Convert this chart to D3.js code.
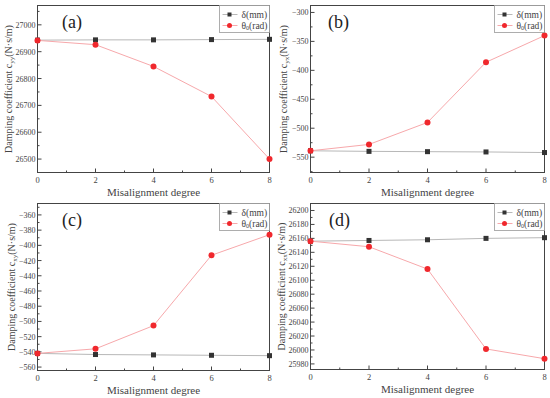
<!DOCTYPE html>
<html>
<head>
<meta charset="utf-8">
<script src="https://cdn.jsdelivr.net/npm/d3@7"></script>
<style>
  body { margin: 0; background: #fff; }
</style>
</head>
<body>
<svg id="mainsvg" width="550" height="398"></svg>
<script>
// misalignment degree (x)
const degrees = [0, 2, 4, 6, 8];

// panel (a) c_yy
const yyDelta = [26943, 26944, 26944, 26945, 26946];
const yyTheta = [26942, 26926, 26845, 26733, 26500];
const yyTicks = [26500, 26600, 26700, 26800, 26900, 27000];

// panel (b) c_yx
const yxDelta = [-539, -540, -540.5, -541, -542];
const yxTheta = [-539, -528, -490, -386, -340];
const yxTicks = [-550, -500, -450, -400, -350, -300];

// panel (c) c_xy
const xyDelta = [-542, -543.5, -544, -544.5, -545];
const xyTheta = [-542, -536, -505.5, -413, -386];
const xyTicks = [-560, -540, -520, -500, -480, -460, -440, -420, -400, -380, -360];

// panel (d) c_xx
const xxDelta = [26156, 26157, 26158, 26160, 26161];
const xxTheta = [26156, 26148, 26116, 26001.5, 25987.5];
const xxTicks = [25980, 26000, 26020, 26040, 26060, 26080, 26100, 26120, 26140, 26160, 26180, 26200];

const xTicks = [0, 2, 4, 6, 8];
const xMinor = [1, 3, 5, 7];

const FONT = '"Liberation Serif"';
const svg = d3.select('#mainsvg');

const panels = [
    { label: '(a)', sub: 'yy', delta: yyDelta, theta: yyTheta, ticks: yyTicks, domain: [26450, 27072],
      x0: 37.5, x1: 269.5, y0: 5.5, y1: 172.5, labelX: 62, titleX: 8 },
    { label: '(b)', sub: 'yx', delta: yxDelta, theta: yxTheta, ticks: yxTicks, domain: [-576.5, -288],
      x0: 310.5, x1: 544.5, y0: 5.5, y1: 172.5, labelX: 328, titleX: 283 },
    { label: '(c)', sub: 'xy', delta: xyDelta, theta: xyTheta, ticks: xyTicks, domain: [-564.5, -345],
      x0: 37.5, x1: 269.5, y0: 203.5, y1: 370.5, labelX: 62, titleX: 11 },
    { label: '(d)', sub: 'xx', delta: xxDelta, theta: xxTheta, ticks: xxTicks, domain: [25972, 26210],
      x0: 310.5, x1: 544.5, y0: 203.5, y1: 369.5, labelX: 329, titleX: 281 }
];

panels.forEach(function(p) {
    const g = svg.append('g');
    const x = d3.scaleLinear().domain([0, 8]).range([p.x0, p.x1]);
    const y = d3.scaleLinear().domain(p.domain).range([p.y1, p.y0]);

    // y minor ticks at midpoints
    const step = p.ticks[1] - p.ticks[0];
    const yMinor = [];
    for (let v = p.ticks[0] - step / 2; v <= p.domain[1]; v += step) {
        if (v >= p.domain[0]) yMinor.push(v);
    }

    // frame
    g.append('rect')
        .attr('x', p.x0).attr('y', p.y0)
        .attr('width', p.x1 - p.x0).attr('height', p.y1 - p.y0)
        .attr('fill', 'none').attr('stroke', '#444').attr('stroke-width', 1);

    // x axis ticks (inward)
    g.selectAll('.xt').data(xTicks).enter().append('line')
        .attr('x1', d => x(d)).attr('x2', d => x(d))
        .attr('y1', p.y1).attr('y2', p.y1 - 4)
        .attr('stroke', '#444');
    g.selectAll('.xm').data(xMinor).enter().append('line')
        .attr('x1', d => x(d)).attr('x2', d => x(d))
        .attr('y1', p.y1).attr('y2', p.y1 - 2)
        .attr('stroke', '#444');
    g.selectAll('.xl').data(xTicks).enter().append('text')
        .attr('x', d => x(d)).attr('y', p.y1 + 10)
        .attr('text-anchor', 'middle')
        .attr('font-size', 8.5).attr('fill', '#444')
        .style('font-family', FONT)
        .text(d => d);

    // y axis ticks
    g.selectAll('.yt').data(p.ticks).enter().append('line')
        .attr('x1', p.x0).attr('x2', p.x0 + 4)
        .attr('y1', d => y(d)).attr('y2', d => y(d))
        .attr('stroke', '#444');
    g.selectAll('.ym').data(yMinor).enter().append('line')
        .attr('x1', p.x0).attr('x2', p.x0 + 2)
        .attr('y1', d => y(d)).attr('y2', d => y(d))
        .attr('stroke', '#444');
    g.selectAll('.yl').data(p.ticks).enter().append('text')
        .attr('x', p.x0 - 2).attr('y', d => y(d) + 3)
        .attr('text-anchor', 'end')
        .attr('font-size', 8).attr('fill', '#444')
        .style('font-family', FONT)
        .text(d => d3.format('d')(d));

    // axis titles
    g.append('text')
        .attr('x', (p.x0 + p.x1) / 2).attr('y', p.y1 + 23)
        .attr('text-anchor', 'middle')
        .attr('font-size', 11).attr('fill', '#444')
        .style('font-family', FONT)
        .text('Misalignment degree');

    const yt = g.append('text')
        .attr('transform', `translate(${p.titleX},${(p.y0 + p.y1) / 2}) rotate(-90)`)
        .attr('text-anchor', 'middle')
        .attr('dy', '0.35em')
        .attr('font-size', 10).attr('fill', '#444')
        .style('font-family', FONT);
    yt.append('tspan').text('Damping coefficient c');
    yt.append('tspan').attr('font-size', 7).attr('dy', 2).text(p.sub);
    yt.append('tspan').attr('dy', -2).text('(N·s/m)');

    // lines
    const line = d3.line().x((d, i) => x(degrees[i])).y(d => y(d));
    g.append('path').datum(p.delta)
        .attr('d', line).attr('fill', 'none')
        .attr('stroke', '#b8b8b8').attr('stroke-width', 1);
    g.append('path').datum(p.theta)
        .attr('d', line).attr('fill', 'none')
        .attr('stroke', '#f7a8ab').attr('stroke-width', 1);

    // markers
    g.selectAll('.sq').data(p.delta).enter().append('rect')
        .attr('x', (d, i) => x(degrees[i]) - 2.5)
        .attr('y', d => y(d) - 2.5)
        .attr('width', 5).attr('height', 5)
        .attr('fill', '#333');
    g.selectAll('.ci').data(p.theta).enter().append('circle')
        .attr('cx', (d, i) => x(degrees[i]))
        .attr('cy', d => y(d))
        .attr('r', 3)
        .attr('fill', '#f0282d');

    // panel label
    g.append('text')
        .attr('x', p.labelX).attr('y', p.y0 + 22)
        .attr('font-size', 18).attr('fill', '#222')
        .style('font-family', FONT)
        .text(p.label);

    // legend
    const lw = 50, lh = 27;
    const lg = g.append('g').attr('transform', `translate(${p.x1 - lw},${p.y0})`);
    lg.append('rect')
        .attr('width', lw).attr('height', lh)
        .attr('fill', '#fff').attr('stroke', '#999').attr('stroke-width', 0.8);
    lg.append('line').attr('x1', 3).attr('x2', 18).attr('y1', 9).attr('y2', 9)
        .attr('stroke', '#b8b8b8');
    lg.append('rect').attr('x', 8).attr('y', 7).attr('width', 4).attr('height', 4)
        .attr('fill', '#333');
    lg.append('text').attr('x', 22).attr('y', 12)
        .attr('font-size', 9.5).attr('fill', '#444')
        .style('font-family', FONT)
        .text('δ(mm)');
    lg.append('line').attr('x1', 3).attr('x2', 18).attr('y1', 20).attr('y2', 20)
        .attr('stroke', '#f7a8ab');
    lg.append('circle').attr('cx', 10).attr('cy', 20).attr('r', 2.5)
        .attr('fill', '#f0282d');
    const lt = lg.append('text').attr('x', 22).attr('y', 23)
        .attr('font-size', 9.5).attr('fill', '#444')
        .style('font-family', FONT);
    lt.append('tspan').text('θ');
    lt.append('tspan').attr('font-size', 6).attr('dy', 1.5).text('0');
    lt.append('tspan').attr('dy', -1.5).text('(rad)');
});
</script>
</body>
</html>
